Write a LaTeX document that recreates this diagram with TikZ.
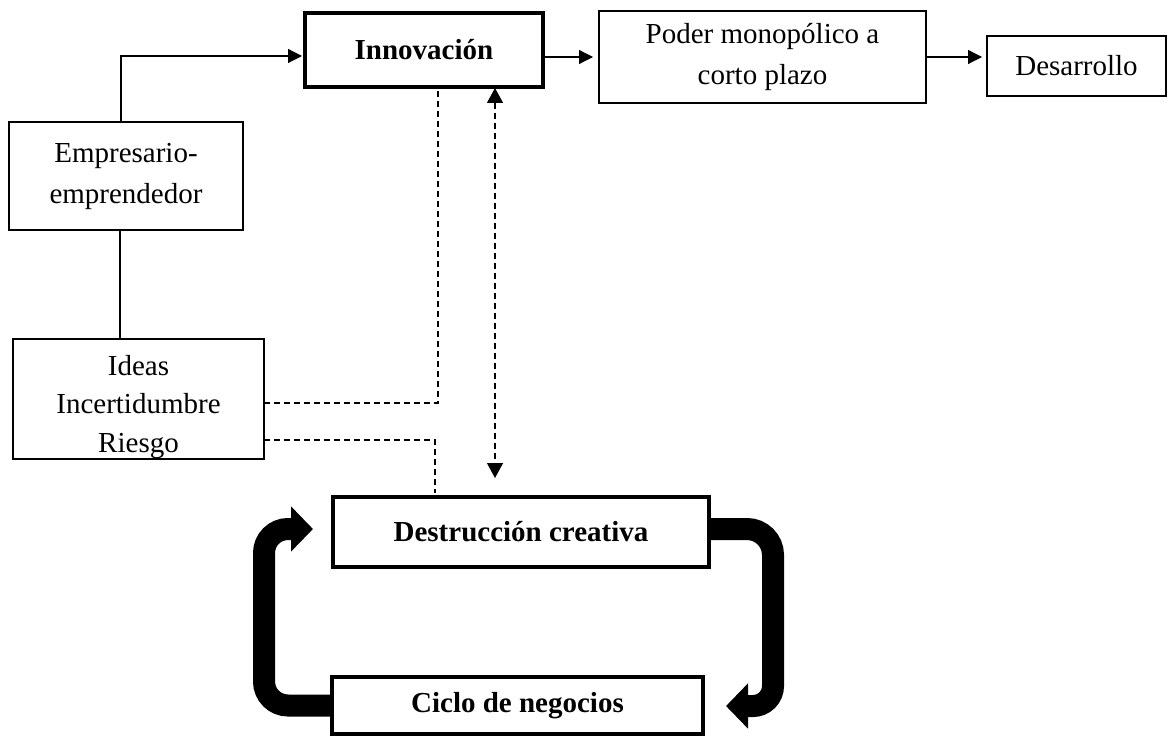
\documentclass[tikz,border=0pt]{standalone}
\usepackage{fontspec}
\setmainfont{Liberation Serif}
\usetikzlibrary{arrows.meta}
\begin{document}
\begin{tikzpicture}[x=1pt,y=-1pt,
  box/.style={draw, line width=1.2pt, inner sep=0pt, outer sep=0pt, align=center, font=\fontsize{29}{41}\selectfont},
  txt/.style={inner sep=0pt, outer sep=0pt, align=center, font=\fontsize{29}{38.5}\selectfont},
  tbox/.style={box, line width=4pt, font=\fontsize{29}{38}\selectfont\bfseries},
  arr/.style={line width=1.2pt, -{Triangle[length=14pt,width=14pt]}},
  dsh/.style={line width=1.2pt, dash pattern=on 6pt off 4pt},
  band/.style={line width=22pt, -{Triangle[length=22pt,width=44pt]}}]
\useasboundingbox (0,0) rectangle (1169,738);
% nodes
\node[tbox, minimum width=238pt, minimum height=74pt] (innov) at (424,50) {Innovación};
\node[box, minimum width=327pt, minimum height=92pt] (poder) at (762.5,57) {Poder monopólico a\\corto plazo};
\node[box, minimum width=179pt, minimum height=60pt] (desarr) at (1076.5,66) {Desarrollo};
\node[box, minimum width=234pt, minimum height=108pt] (empr) at (126,176) {Empresario-\\emprendedor};
\node[box, minimum width=251pt, minimum height=120pt] (ideas) at (138.5,399) {};
\node[txt] (ideasT) at ([yshift=-8pt]ideas.center) {Ideas\\Incertidumbre\\Riesgo};
\node[tbox, minimum width=376pt, minimum height=70pt] (destr) at (521,532) {Destrucción creativa};
\node[tbox, minimum width=371pt, minimum height=57pt] (ciclo) at (517.5,705.5) {Ciclo de negocios};
% solid connectors
\draw[arr, shorten >=3pt] ([xshift=-5pt]empr.north) |- ([yshift=-6pt]innov.west);
\draw[line width=1.2pt] ([xshift=-6pt]empr.south) -- ([xshift=-6pt]empr.south |- ideas.north);
\draw[arr, shorten >=6pt] (innov.east |- poder.west) -- (poder.west);
\draw[arr, shorten >=5pt] (poder.east) -- (poder.east -| desarr.west);
% dashed connectors
\coordinate (d1) at (438,403);
\coordinate (d2) at (435,440);
\coordinate (da) at (495,0);
\draw[dsh] (ideas.east |- d1) -- (d1) -- (d1 |- innov.south);
\draw[dsh, shorten >=4pt] (ideas.east |- d2) -- (d2) -- (d2 |- destr.north);
\draw[dsh, {Triangle[length=15pt,width=16pt]}-{Triangle[length=15pt,width=16pt]}, shorten <=1pt, shorten >=19pt] (da |- innov.south) -- (da |- destr.north);
% thick cycle arrows
\coordinate (r1) at (773,529);
\coordinate (r2) at (773,706);
\draw[band, shorten >=23pt] ([yshift=3pt]destr.east) [rounded corners=26pt] -- (r1) [rounded corners=20pt] -- (r2) -- (r2 -| ciclo.east);
\coordinate (l1) at (264,705.5);
\coordinate (l2) at (264,529);
\draw[band, shorten >=20pt] (ciclo.west) [rounded corners=24pt] -- (l1) [rounded corners=24pt] -- (l2) -- (l2 -| destr.west);
\end{tikzpicture}
\end{document}
